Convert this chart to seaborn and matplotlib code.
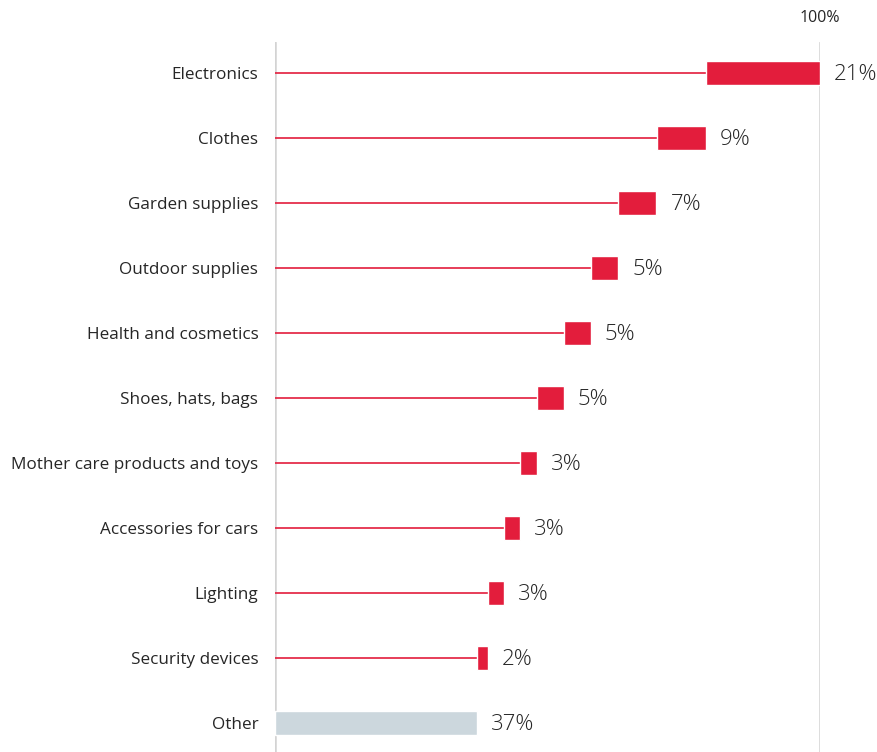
import numpy as np
import matplotlib
matplotlib.use("Agg")
import matplotlib.pyplot as plt
import seaborn as sns

categories = ["Electronics", "Clothes", "Garden supplies", "Outdoor supplies",
              "Health and cosmetics", "Shoes, hats, bags",
              "Mother care products and toys", "Accessories for cars",
              "Lighting", "Security devices", "Other"]
shares = [21, 9, 7, 5, 5, 5, 3, 3, 3, 2, 37]
value_labels = ["21%", "9%", "7%", "5%", "5%", "5%", "3%", "3%", "3%", "2%", "37%"]
total_label = "100%"

RED = "#E31D3C"
GREY_BAR = "#CCD7DD"
GUIDE = "#D3D3D3"
TEXT = "#262626"

sns.set_theme(style="white")
plt.rcParams["font.family"] = ["Open Sans", "DejaVu Sans"]

fig = plt.figure(figsize=(8.78, 7.52), dpi=100)
ax = fig.add_axes([275 / 878, 0, (820 - 275) / 878, (752 - 42) / 752])

# Stacked from the bottom: "Other" starts at zero, every category above
# starts where the one below it ends.
n = len(categories)
starts = np.zeros(n)
acc = 0.0
for i in range(n - 1, -1, -1):
    starts[i] = acc
    acc += shares[i]
ends = starts + np.array(shares)
ypos = np.arange(n)

colors = [RED] * (n - 1) + [GREY_BAR]

# leader lines from the zero axis to the start of each segment
ax.hlines(ypos[:-1], 0, starts[:-1], color=RED, lw=1.2, zorder=2)
ax.barh(ypos, shares, left=starts, height=0.37, color=colors, zorder=3)

# guides at 0 and 100
ax.axvline(0, color=GUIDE, lw=1.8, zorder=1)
ax.axvline(100, color=GUIDE, lw=1.8, zorder=1)

for y, e, lab in zip(ypos, ends, value_labels):
    ax.annotate(lab, (e, y), xytext=(10, -1), textcoords="offset points",
                ha="left", va="center", fontsize=16, fontweight="light",
                color=TEXT)

ax.annotate(total_label, (100, 1.0), xycoords=("data", "axes fraction"),
            xytext=(0, 17), textcoords="offset points", ha="center",
            va="center", fontsize=11.5, color=TEXT)

ax.set_xlim(0, 100)
ax.set_ylim(10.45, -0.48)
ax.set_yticks(ypos)
ax.set_yticklabels(categories, fontsize=12.3, color=TEXT)
ax.set_xticks([])
ax.tick_params(axis="y", length=0, pad=12)
for s in ax.spines.values():
    s.set_visible(False)

fig.savefig("out.png", dpi=100)
